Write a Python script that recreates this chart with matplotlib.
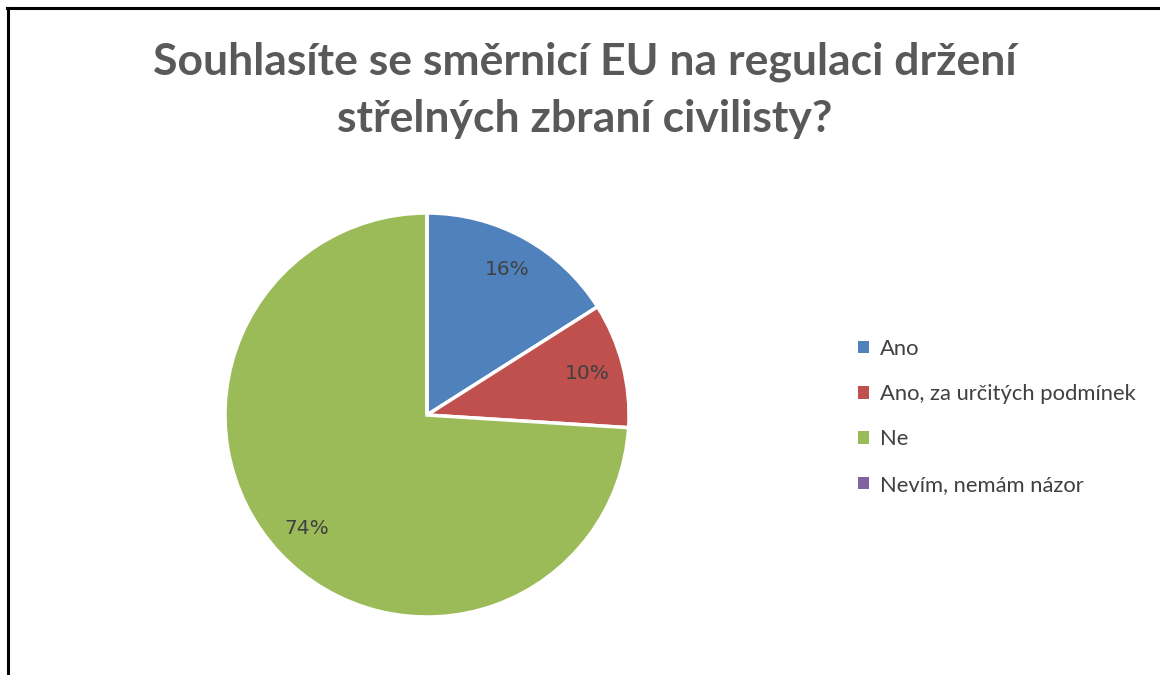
import matplotlib.pyplot as plt
from matplotlib.patches import Patch
from matplotlib.lines import Line2D

# data
labels = ["Ano", "Ano, za určitých podmínek", "Ne", "Nevím, nemám názor"]
values = [16, 10, 74, 0]
colors = ["#4F81BD", "#C0504D", "#9BBB59", "#8064A2"]
title_lines = ["Souhlasíte se směrnicí EU na regulaci držení", "střelných zbraní civilisty?"]

W, H = 1160, 675
fig = plt.figure(figsize=(W / 100, H / 100), dpi=100)
fig.patch.set_facecolor("white")

# pie axes: center (427, 415) px, radius 202 px
cx, cy, r = 427, 415, 202
ax = fig.add_axes([(cx - r) / W, (H - cy - r) / H, 2 * r / W, 2 * r / H])


def pct(p):
    if p < 0.5:
        return ""
    return "{0:.0f}%".format(p)


wedges, texts, autotexts = ax.pie(values, colors=colors, startangle=90, counterclock=False,
                                  autopct=pct, pctdistance=0.82, radius=1,
                                  wedgeprops=dict(edgecolor="white", linewidth=2.5),
                                  textprops=dict(color="#404040", fontsize=14.5, family="DejaVu Sans"))
ax.set_xlim(-1, 1)
ax.set_ylim(-1, 1)
ax.set_aspect("auto")
ax.axis("off")

# title, two lines (baselines at 75 and 132 px from top)
for line, base in zip(title_lines, [75, 132]):
    fig.text(585 / W, 1 - base / H, line, ha="center", va="baseline", fontsize=32,
             fontweight="bold", color="#595959", family="Lato")

handles = [Patch(facecolor=c, edgecolor="none") for c in colors]
leg = fig.legend(handles, labels, loc="upper left", bbox_to_anchor=(858 / W, 1 - 339 / H),
                 frameon=False, labelspacing=1.15, handlelength=0.5,
                 handleheight=0.5, handletextpad=0.5, borderpad=0, borderaxespad=0,
                 prop=dict(family="Lato", size=15.8))
for t in leg.get_texts():
    t.set_color("#404040")

# frame lines (left and top)
fig.add_artist(Line2D([7.5 / W, 7.5 / W], [0, 1 - 7.5 / H], color="black", linewidth=2.2,
                      transform=fig.transFigure))
fig.add_artist(Line2D([6.5 / W, 1], [1 - 7.5 / H, 1 - 7.5 / H], color="black", linewidth=2.2,
                      transform=fig.transFigure))

fig.savefig("out.png", dpi=100)
